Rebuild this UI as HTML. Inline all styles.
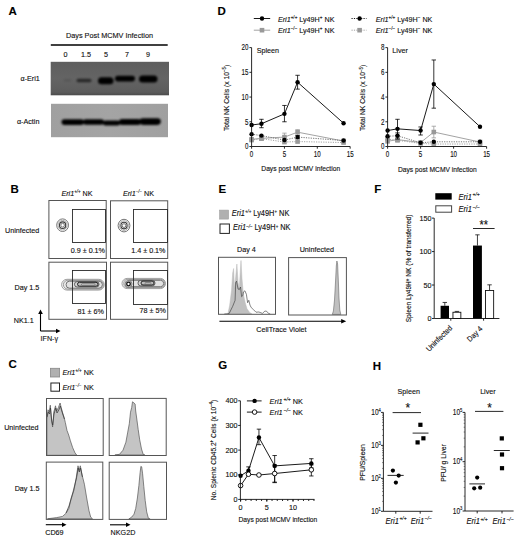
<!DOCTYPE html>
<html><head><meta charset="utf-8"><style>
html,body{margin:0;padding:0;background:#fff;width:520px;height:539px;overflow:hidden;font-family:"Liberation Sans", sans-serif;}
svg{display:block;}
text{stroke:#111;stroke-width:0.12px;}
</style></head><body>
<svg width="520" height="539" viewBox="0 0 520 539" font-family='"Liberation Sans", sans-serif'>
<defs><linearGradient id="gb1" x1="0" y1="0" x2="0" y2="1"><stop offset="0" stop-color="#5e5e5e"/><stop offset="0.5" stop-color="#646464"/><stop offset="0.9" stop-color="#5c5c5c"/><stop offset="1" stop-color="#4c4c4c"/></linearGradient><linearGradient id="gb2" x1="0" y1="0" x2="1" y2="0"><stop offset="0" stop-color="#a0a0a0"/><stop offset="0.5" stop-color="#a4a4a4"/><stop offset="1" stop-color="#a0a0a0"/></linearGradient><filter id="blur1" x="-50%" y="-50%" width="200%" height="200%"><feGaussianBlur stdDeviation="0.8"/></filter><filter id="blur05" x="-50%" y="-50%" width="200%" height="200%"><feGaussianBlur stdDeviation="0.5"/></filter><filter id="blur06" x="-50%" y="-50%" width="200%" height="200%"><feGaussianBlur stdDeviation="0.6"/></filter></defs>
<rect width="520" height="539" fill="#fff"/>
<text x="8.60" y="14.80" font-size="11.5" text-anchor="start" font-weight="bold" font-style="normal" fill="#000" >A</text>
<text transform="translate(109.50,37.60) scale(1,1.1)" x="0" y="0" font-size="7.3" text-anchor="middle" font-weight="normal" font-style="normal" fill="#111" >Days Post MCMV Infection</text>
<line x1="50.80" y1="44.90" x2="167.70" y2="44.90" stroke="#000" stroke-width="1.5" />
<text transform="translate(65.50,56.60) scale(1,1.1)" x="0" y="0" font-size="7.2" text-anchor="middle" font-weight="normal" font-style="normal" fill="#111" >0</text>
<text transform="translate(86.00,56.60) scale(1,1.1)" x="0" y="0" font-size="7.2" text-anchor="middle" font-weight="normal" font-style="normal" fill="#111" >1.5</text>
<text transform="translate(106.00,56.60) scale(1,1.1)" x="0" y="0" font-size="7.2" text-anchor="middle" font-weight="normal" font-style="normal" fill="#111" >5</text>
<text transform="translate(127.00,56.60) scale(1,1.1)" x="0" y="0" font-size="7.2" text-anchor="middle" font-weight="normal" font-style="normal" fill="#111" >7</text>
<text transform="translate(148.00,56.60) scale(1,1.1)" x="0" y="0" font-size="7.2" text-anchor="middle" font-weight="normal" font-style="normal" fill="#111" >9</text>
<rect x="50.70" y="61.80" width="118.30" height="33.50" fill="url(#gb1)" stroke="none" stroke-width="1" />
<rect x="51.00" y="103.80" width="117.00" height="33.40" fill="url(#gb2)" stroke="none" stroke-width="1" />
<text transform="translate(39.80,81.00) scale(1,1.1)" x="0" y="0" font-size="7.2" text-anchor="end" font-weight="normal" font-style="normal" fill="#111" >α-Eri1</text>
<text transform="translate(39.40,124.20) scale(1,1.1)" x="0" y="0" font-size="7.2" text-anchor="end" font-weight="normal" font-style="normal" fill="#111" >α-Actin</text>
<g filter="url(#blur1)">
<rect x="63.5" y="79.2" width="8.0" height="2.0" rx="1.0" fill="#000" opacity="0.15"/>
<rect x="76.5" y="78.7" width="15.0" height="3.6" rx="1.8" fill="#000" opacity="0.6"/>
<rect x="98" y="77.3" width="15.5" height="7.0" rx="3.5" fill="#000" opacity="1.0"/>
<rect x="115" y="75.8" width="20" height="5.6" rx="2.8" fill="#000" opacity="1.0"/>
<rect x="139" y="75.5" width="18.5" height="7.0" rx="3.5" fill="#000" opacity="1.0"/>
<rect x="61.5" y="119.3" width="22.5" height="5.6" rx="2.8" fill="#000"/>
<rect x="83" y="119.2" width="21" height="5.6" rx="2.8" fill="#000"/>
<rect x="103" y="120.6" width="17" height="5.0" rx="2.5" fill="#000"/>
<rect x="119" y="119.1" width="22" height="5.8" rx="2.9" fill="#000"/>
<rect x="139.5" y="118.3" width="21.30000000000001" height="6.6" rx="3.3" fill="#000"/>
</g>
<text x="10.60" y="192.50" font-size="11.5" text-anchor="start" font-weight="bold" font-style="normal" fill="#000" >B</text>
<text transform="translate(77.00,196.30) scale(1,1.1)" x="0" y="0" font-size="7.2" text-anchor="middle" fill="#111"><tspan font-style="italic">Eri1</tspan><tspan font-size="4.46" dx="0" dy="-2.59" font-style="italic">+/+</tspan><tspan dy="2.59"> NK</tspan></text>
<text transform="translate(138.50,196.30) scale(1,1.1)" x="0" y="0" font-size="7.2" text-anchor="middle" fill="#111"><tspan font-style="italic">Eri1</tspan><tspan font-size="4.46" dx="0" dy="-2.59" font-style="italic">−/−</tspan><tspan dy="2.59"> NK</tspan></text>
<g filter="url(#blur05)" fill="none">
<ellipse cx="62.6" cy="225.2" rx="5.9" ry="6.3" stroke="#666" stroke-width="0.9"/>
<ellipse cx="62.6" cy="225.2" rx="4.5" ry="4.8" stroke="#8a8a8a" stroke-width="0.7"/>
<ellipse cx="62.6" cy="225.2" rx="3.1" ry="3.3" stroke="#3a3a3a" stroke-width="1.1"/>
<ellipse cx="62.6" cy="225.2" rx="1.8" ry="1.9" stroke="#555" stroke-width="0.8"/>
</g>
<g filter="url(#blur05)" fill="none">
<ellipse cx="124.0" cy="225.6" rx="5.9" ry="6.3" stroke="#666" stroke-width="0.9"/>
<ellipse cx="124.0" cy="225.6" rx="4.5" ry="4.8" stroke="#8a8a8a" stroke-width="0.7"/>
<ellipse cx="124.0" cy="225.6" rx="3.1" ry="3.3" stroke="#3a3a3a" stroke-width="1.1"/>
<ellipse cx="124.0" cy="225.6" rx="1.8" ry="1.9" stroke="#555" stroke-width="0.8"/>
</g>
<g filter="url(#blur05)">
<rect x="61.60" y="279.30" width="42.60" height="10.80" rx="5.40" ry="5.40" fill="#f4f4f4" stroke="#8a8a8a" stroke-width="0.8"/>
<rect x="63.40" y="280.30" width="40.00" height="8.80" rx="4.40" ry="4.40" fill="#ececec" stroke="#777" stroke-width="0.7"/>
<rect x="66.10" y="281.20" width="36.30" height="7.00" rx="3.40" ry="3.40" fill="#e2e2e2" stroke="#555" stroke-width="0.8"/>
<rect x="74.50" y="281.60" width="24.50" height="5.40" rx="2.60" ry="2.60" fill="#d4d4d4" stroke="#444" stroke-width="0.8"/>
<rect x="77.50" y="282.30" width="20.50" height="3.90" rx="2.00" ry="2.00" fill="#bdbdbd" stroke="#222" stroke-width="1.0"/>
<rect x="81.50" y="283.70" width="13.50" height="1.40" rx="0.70" ry="0.70" fill="#e6e6e6" stroke="#555" stroke-width="0.6"/>
</g>
<g filter="url(#blur05)">
<rect x="122.00" y="278.40" width="43.50" height="10.20" rx="5.10" ry="5.10" fill="#f4f4f4" stroke="#8a8a8a" stroke-width="0.8"/>
<rect x="123.80" y="279.40" width="40.90" height="8.20" rx="4.10" ry="4.10" fill="#ececec" stroke="#777" stroke-width="0.7"/>
<rect x="126.50" y="280.30" width="37.20" height="6.40" rx="3.10" ry="3.10" fill="#e2e2e2" stroke="#555" stroke-width="0.8"/>
<rect x="138.00" y="280.40" width="17.00" height="5.40" rx="2.60" ry="2.60" fill="#d4d4d4" stroke="#444" stroke-width="0.8"/>
<rect x="141.00" y="281.10" width="13.00" height="3.90" rx="2.00" ry="2.00" fill="#bdbdbd" stroke="#222" stroke-width="1.0"/>
<rect x="145.00" y="282.50" width="6.00" height="1.40" rx="0.70" ry="0.70" fill="#e6e6e6" stroke="#555" stroke-width="0.6"/>
<circle cx="128.5" cy="284.0" r="3.5" fill="#cfcfcf" stroke="#666" stroke-width="0.7"/>
<circle cx="128.5" cy="284.0" r="1.8" fill="#fff" stroke="#111" stroke-width="1.3"/>
</g>
<rect x="48.90" y="200.50" width="57.30" height="58.00" fill="none" stroke="#555" stroke-width="1" />
<rect x="110.50" y="200.80" width="57.20" height="57.70" fill="none" stroke="#555" stroke-width="1" />
<rect x="48.90" y="262.20" width="57.60" height="57.10" fill="none" stroke="#555" stroke-width="1" />
<rect x="110.50" y="262.20" width="57.20" height="57.10" fill="none" stroke="#555" stroke-width="1" />
<rect x="72.50" y="209.50" width="33.00" height="33.00" fill="none" stroke="#2a2a2a" stroke-width="0.9" />
<rect x="133.50" y="209.50" width="34.00" height="33.00" fill="none" stroke="#2a2a2a" stroke-width="0.9" />
<rect x="72.50" y="270.50" width="33.00" height="33.00" fill="none" stroke="#2a2a2a" stroke-width="0.9" />
<rect x="133.50" y="270.50" width="34.00" height="34.00" fill="none" stroke="#2a2a2a" stroke-width="0.9" />
<text transform="translate(105.00,252.60) scale(1,1.1)" x="0" y="0" font-size="7.2" text-anchor="end" font-weight="normal" font-style="normal" fill="#111" >0.9 ± 0.1%</text>
<text transform="translate(165.50,252.60) scale(1,1.1)" x="0" y="0" font-size="7.2" text-anchor="end" font-weight="normal" font-style="normal" fill="#111" >1.4 ± 0.1%</text>
<text transform="translate(103.80,313.60) scale(1,1.1)" x="0" y="0" font-size="7.2" text-anchor="end" font-weight="normal" font-style="normal" fill="#111" >81 ± 6%</text>
<text transform="translate(165.80,313.30) scale(1,1.1)" x="0" y="0" font-size="7.2" text-anchor="end" font-weight="normal" font-style="normal" fill="#111" >78 ± 5%</text>
<text transform="translate(39.30,232.60) scale(1,1.1)" x="0" y="0" font-size="7.2" text-anchor="end" font-weight="normal" font-style="normal" fill="#111" >Uninfected</text>
<text transform="translate(39.30,289.60) scale(1,1.1)" x="0" y="0" font-size="7.2" text-anchor="end" font-weight="normal" font-style="normal" fill="#111" >Day 1.5</text>
<text transform="translate(33.70,323.30) scale(1,1.1)" x="0" y="0" font-size="7.2" text-anchor="end" font-weight="normal" font-style="normal" fill="#111" >NK1.1</text>
<line x1="40.50" y1="331.00" x2="40.50" y2="312.50" stroke="#000" stroke-width="1.1" />
<path d="M40.5,309.5 L38.2,314 L42.8,314 Z" fill="#000"/>
<line x1="40.50" y1="331.00" x2="57.50" y2="331.00" stroke="#000" stroke-width="1.1" />
<path d="M60.5,331 L56,328.7 L56,333.3 Z" fill="#000"/>
<text transform="translate(40.50,341.40) scale(1,1.1)" x="0" y="0" font-size="7.2" text-anchor="start" font-weight="normal" font-style="normal" fill="#111" >IFN-γ</text>
<text x="8.60" y="368.20" font-size="11.5" text-anchor="start" font-weight="bold" font-style="normal" fill="#000" >C</text>
<rect x="50.40" y="368.30" width="9.20" height="8.70" fill="#b0b0b0" stroke="#888" stroke-width="0.8" />
<text transform="translate(62.50,375.00) scale(1,1.1)" x="0" y="0" font-size="7.2" text-anchor="start" fill="#111"><tspan font-style="italic">Eri1</tspan><tspan font-size="4.46" dx="0" dy="-2.59" font-style="italic">+/+</tspan><tspan dy="2.59"> NK</tspan></text>
<rect x="50.90" y="383.00" width="8.60" height="8.20" fill="#fff" stroke="#222" stroke-width="1" />
<text transform="translate(62.50,389.60) scale(1,1.1)" x="0" y="0" font-size="7.2" text-anchor="start" fill="#111"><tspan font-style="italic">Eri1</tspan><tspan font-size="4.46" dx="0" dy="-2.59" font-style="italic">−/−</tspan><tspan dy="2.59"> NK</tspan></text>
<path d="M46.9,455.3 L46.9,419.0 L48.0,409.8 L49.2,412.0 L50.3,405.2 L51.5,419.0 L52.6,427.0 L53.8,412.0 L55.5,405.8 L56.6,411.0 L58.4,407.5 L60.1,403.0 L61.2,407.5 L62.4,412.0 L64.1,417.3 L65.3,422.4 L67.0,430.5 L68.7,435.0 L70.4,440.8 L72.7,447.7 L75.0,452.9 L76.8,455.2 Z" fill="#c4c4c4" stroke="#555" stroke-width="0.7" stroke-linejoin="round"/>
<path d="M47.0,417.0 L48.3,412.0 L49.5,414.0 L50.5,408.0 L51.7,421.0 L52.7,425.0 L54.0,414.0 L55.8,408.0 L57.0,413.0 L58.8,410.0 L60.3,406.0 L61.5,410.0 L62.7,414.0 L64.4,419.0" fill="none" stroke="#333" stroke-width="0.7" stroke-linejoin="round"/>
<path d="M47.5,518.8 L56.7,517.6 L62.5,516.4 L65.9,513.4 L68.8,508.5 L71.1,499.2 L74.0,490.0 L76.3,477.3 L78.0,465.8 L79.2,470.4 L80.3,465.8 L82.1,475.0 L84.4,484.2 L86.7,498.0 L89.0,510.8 L90.7,517.1 L92.5,518.8 Z" fill="#c4c4c4" stroke="#555" stroke-width="0.7" stroke-linejoin="round"/>
<path d="M66.0,513.0 L69.0,506.0 L71.5,497.0 L73.0,492.0 L75.0,484.0 L76.5,478.0 L78.2,468.0 L79.3,472.0 L80.6,468.0 L82.4,477.0" fill="none" stroke="#333" stroke-width="0.7" stroke-linejoin="round"/>
<path d="M114.9,455.0 L119.5,454.3 L123.0,450.2 L125.9,442.2 L127.6,432.9 L129.3,423.7 L130.5,412.2 L131.7,407.5 L132.5,401.8 L134.0,403.0 L135.1,404.0 L135.7,411.0 L136.8,419.0 L138.2,429.5 L139.7,439.8 L141.5,449.0 L143.2,454.3 L144.9,455.0 Z" fill="#c4c4c4" stroke="#555" stroke-width="0.7" stroke-linejoin="round"/>
<path d="M128.8,519.0 L131.7,517.1 L134.0,514.2 L135.7,508.5 L137.4,498.0 L138.9,485.4 L140.1,472.7 L140.9,466.3 L141.7,466.9 L142.6,473.8 L143.8,486.5 L145.2,500.4 L146.7,511.9 L148.4,518.3 L150.1,519.0 Z" fill="#c4c4c4" stroke="#555" stroke-width="0.7" stroke-linejoin="round"/>
<rect x="46.50" y="398.50" width="56.70" height="57.00" fill="none" stroke="#555" stroke-width="1" />
<rect x="109.20" y="398.40" width="57.00" height="57.10" fill="none" stroke="#555" stroke-width="1" />
<rect x="46.30" y="462.10" width="56.50" height="57.30" fill="none" stroke="#555" stroke-width="1" />
<rect x="109.20" y="462.20" width="57.30" height="57.20" fill="none" stroke="#555" stroke-width="1" />
<text transform="translate(38.50,429.60) scale(1,1.1)" x="0" y="0" font-size="7.2" text-anchor="end" font-weight="normal" font-style="normal" fill="#111" >Uninfected</text>
<text transform="translate(39.40,491.20) scale(1,1.1)" x="0" y="0" font-size="7.2" text-anchor="end" font-weight="normal" font-style="normal" fill="#111" >Day 1.5</text>
<line x1="45.80" y1="524.70" x2="63.50" y2="524.70" stroke="#000" stroke-width="1.1" />
<path d="M66.5,524.7 L62,522.5 L62,526.9 Z" fill="#000"/>
<line x1="110.00" y1="524.80" x2="127.50" y2="524.80" stroke="#000" stroke-width="1.1" />
<path d="M130.5,524.8 L126,522.6 L126,527 Z" fill="#000"/>
<text transform="translate(45.20,534.90) scale(1,1.1)" x="0" y="0" font-size="7.2" text-anchor="start" font-weight="normal" font-style="normal" fill="#111" >CD69</text>
<text transform="translate(110.60,534.80) scale(1,1.1)" x="0" y="0" font-size="7.2" text-anchor="start" font-weight="normal" font-style="normal" fill="#111" >NKG2D</text>
<text x="217.60" y="14.60" font-size="11.5" text-anchor="start" font-weight="bold" font-style="normal" fill="#000" >D</text>
<line x1="253.80" y1="18.50" x2="270.20" y2="18.50" stroke="#000" stroke-width="0.9" />
<circle cx="262.00" cy="18.50" r="2.2" fill="#000"/>
<text transform="translate(277.9,21.70) scale(1,1.1)" x="0" y="0" font-size="7.2" fill="#111"><tspan font-style="italic">Eri1</tspan><tspan font-size="4.6" dy="-2.7">+/+</tspan><tspan dy="2.7"> Ly49H</tspan><tspan font-size="4.6" dy="-2.7">+</tspan><tspan dy="2.7"> NK</tspan></text>
<line x1="253.80" y1="30.20" x2="270.20" y2="30.20" stroke="#999" stroke-width="0.9" />
<rect x="259.70" y="27.90" width="4.6" height="4.6" fill="#999"/>
<text transform="translate(277.9,33.40) scale(1,1.1)" x="0" y="0" font-size="7.2" fill="#111"><tspan font-style="italic">Eri1</tspan><tspan font-size="4.6" dy="-2.7">−/−</tspan><tspan dy="2.7"> Ly49H</tspan><tspan font-size="4.6" dy="-2.7">+</tspan><tspan dy="2.7"> NK</tspan></text>
<line x1="351.50" y1="18.50" x2="366.50" y2="18.50" stroke="#000" stroke-width="0.9" stroke-dasharray="1.2,1.2"/>
<circle cx="359.60" cy="18.50" r="2.2" fill="#000"/>
<text transform="translate(375.8,21.70) scale(1,1.1)" x="0" y="0" font-size="7.2" fill="#111"><tspan font-style="italic">Eri1</tspan><tspan font-size="4.6" dy="-2.7">+/+</tspan><tspan dy="2.7"> Ly49H</tspan><tspan font-size="4.6" dy="-2.7">−</tspan><tspan dy="2.7"> NK</tspan></text>
<line x1="351.50" y1="30.20" x2="366.50" y2="30.20" stroke="#999" stroke-width="0.9" stroke-dasharray="1.2,1.2"/>
<rect x="357.30" y="27.90" width="4.6" height="4.6" fill="#999"/>
<text transform="translate(375.8,33.40) scale(1,1.1)" x="0" y="0" font-size="7.2" fill="#111"><tspan font-style="italic">Eri1</tspan><tspan font-size="4.6" dy="-2.7">−/−</tspan><tspan dy="2.7"> Ly49H</tspan><tspan font-size="4.6" dy="-2.7">−</tspan><tspan dy="2.7"> NK</tspan></text>
<path d="M251.60,140.07 L261.45,138.59 L284.45,142.05 L297.59,141.56 L343.58,142.54" fill="none" stroke="#999" stroke-width="0.9" stroke-dasharray="1.2,1.2"/>
<rect x="249.30" y="137.77" width="4.6" height="4.6" fill="#999"/>
<rect x="259.15" y="136.29" width="4.6" height="4.6" fill="#999"/>
<rect x="282.15" y="139.75" width="4.6" height="4.6" fill="#999"/>
<rect x="295.29" y="139.25" width="4.6" height="4.6" fill="#999"/>
<rect x="341.28" y="140.24" width="4.6" height="4.6" fill="#999"/>
<path d="M251.60,139.33 L261.45,138.34 L284.45,137.10 L297.59,132.16 L343.58,141.06" fill="none" stroke="#999" stroke-width="0.9" />
<line x1="284.45" y1="133.15" x2="284.45" y2="140.57" stroke="#999" stroke-width="0.8" />
<line x1="282.25" y1="133.15" x2="286.65" y2="133.15" stroke="#999" stroke-width="0.8" />
<line x1="282.25" y1="140.57" x2="286.65" y2="140.57" stroke="#999" stroke-width="0.8" />
<line x1="297.59" y1="129.69" x2="297.59" y2="135.13" stroke="#999" stroke-width="0.8" />
<line x1="295.39" y1="129.69" x2="299.79" y2="129.69" stroke="#999" stroke-width="0.8" />
<line x1="295.39" y1="135.13" x2="299.79" y2="135.13" stroke="#999" stroke-width="0.8" />
<line x1="261.45" y1="136.61" x2="261.45" y2="140.07" stroke="#999" stroke-width="0.8" />
<line x1="259.25" y1="136.61" x2="263.65" y2="136.61" stroke="#999" stroke-width="0.8" />
<line x1="259.25" y1="140.07" x2="263.65" y2="140.07" stroke="#999" stroke-width="0.8" />
<rect x="249.30" y="137.03" width="4.6" height="4.6" fill="#999"/>
<rect x="259.15" y="136.04" width="4.6" height="4.6" fill="#999"/>
<rect x="282.15" y="134.80" width="4.6" height="4.6" fill="#999"/>
<rect x="295.29" y="129.86" width="4.6" height="4.6" fill="#999"/>
<rect x="341.28" y="138.76" width="4.6" height="4.6" fill="#999"/>
<path d="M251.60,134.14 L261.45,135.62 L284.45,140.07 L297.59,137.10 L343.58,140.57" fill="none" stroke="#666" stroke-width="0.9" stroke-dasharray="1.2,1.2"/>
<line x1="297.59" y1="135.62" x2="297.59" y2="138.59" stroke="#000" stroke-width="0.8" />
<line x1="295.39" y1="135.62" x2="299.79" y2="135.62" stroke="#000" stroke-width="0.8" />
<line x1="295.39" y1="138.59" x2="299.79" y2="138.59" stroke="#000" stroke-width="0.8" />
<circle cx="251.60" cy="134.14" r="2.2" fill="#000"/>
<circle cx="261.45" cy="135.62" r="2.2" fill="#000"/>
<circle cx="284.45" cy="140.07" r="2.2" fill="#000"/>
<circle cx="297.59" cy="137.10" r="2.2" fill="#000"/>
<circle cx="343.58" cy="140.57" r="2.2" fill="#000"/>
<path d="M251.60,124.99 L261.45,123.75 L284.45,113.86 L297.59,82.22 L343.58,123.26" fill="none" stroke="#000" stroke-width="0.9" />
<line x1="261.45" y1="119.30" x2="261.45" y2="127.71" stroke="#000" stroke-width="0.8" />
<line x1="259.25" y1="119.30" x2="263.65" y2="119.30" stroke="#000" stroke-width="0.8" />
<line x1="259.25" y1="127.71" x2="263.65" y2="127.71" stroke="#000" stroke-width="0.8" />
<line x1="284.45" y1="105.46" x2="284.45" y2="121.78" stroke="#000" stroke-width="0.8" />
<line x1="282.25" y1="105.46" x2="286.65" y2="105.46" stroke="#000" stroke-width="0.8" />
<line x1="282.25" y1="121.78" x2="286.65" y2="121.78" stroke="#000" stroke-width="0.8" />
<line x1="297.59" y1="75.29" x2="297.59" y2="89.14" stroke="#000" stroke-width="0.8" />
<line x1="295.39" y1="75.29" x2="299.79" y2="75.29" stroke="#000" stroke-width="0.8" />
<line x1="295.39" y1="89.14" x2="299.79" y2="89.14" stroke="#000" stroke-width="0.8" />
<circle cx="251.60" cy="124.99" r="2.2" fill="#000"/>
<circle cx="261.45" cy="123.75" r="2.2" fill="#000"/>
<circle cx="284.45" cy="113.86" r="2.2" fill="#000"/>
<circle cx="297.59" cy="82.22" r="2.2" fill="#000"/>
<circle cx="343.58" cy="123.26" r="2.2" fill="#000"/>
<line x1="251.60" y1="47.60" x2="251.60" y2="146.50" stroke="#111" stroke-width="0.9" />
<line x1="249.40" y1="146.50" x2="251.60" y2="146.50" stroke="#111" stroke-width="0.9" />
<text transform="translate(248.40,149.30) scale(0.84,1) scale(1,1.1)" x="0" y="0" font-size="7.4" text-anchor="end" fill="#111">0</text>
<line x1="249.40" y1="121.78" x2="251.60" y2="121.78" stroke="#111" stroke-width="0.9" />
<text transform="translate(248.40,124.58) scale(0.84,1) scale(1,1.1)" x="0" y="0" font-size="7.4" text-anchor="end" fill="#111">5</text>
<line x1="249.40" y1="97.05" x2="251.60" y2="97.05" stroke="#111" stroke-width="0.9" />
<text transform="translate(248.40,99.85) scale(0.84,1) scale(1,1.1)" x="0" y="0" font-size="7.4" text-anchor="end" fill="#111">10</text>
<line x1="249.40" y1="72.32" x2="251.60" y2="72.32" stroke="#111" stroke-width="0.9" />
<text transform="translate(248.40,75.12) scale(0.84,1) scale(1,1.1)" x="0" y="0" font-size="7.4" text-anchor="end" fill="#111">15</text>
<line x1="249.40" y1="47.60" x2="251.60" y2="47.60" stroke="#111" stroke-width="0.9" />
<text transform="translate(248.40,50.40) scale(0.84,1) scale(1,1.1)" x="0" y="0" font-size="7.4" text-anchor="end" fill="#111">20</text>
<line x1="251.60" y1="146.50" x2="350.15" y2="146.50" stroke="#111" stroke-width="0.9" />
<line x1="251.60" y1="146.50" x2="251.60" y2="148.70" stroke="#111" stroke-width="0.9" />
<text transform="translate(251.60,157.30) scale(0.84,1) scale(1,1.1)" x="0" y="0" font-size="7.4" text-anchor="middle" fill="#111">0</text>
<line x1="284.45" y1="146.50" x2="284.45" y2="148.70" stroke="#111" stroke-width="0.9" />
<text transform="translate(284.45,157.30) scale(0.84,1) scale(1,1.1)" x="0" y="0" font-size="7.4" text-anchor="middle" fill="#111">5</text>
<line x1="317.30" y1="146.50" x2="317.30" y2="148.70" stroke="#111" stroke-width="0.9" />
<text transform="translate(317.30,157.30) scale(0.84,1) scale(1,1.1)" x="0" y="0" font-size="7.4" text-anchor="middle" fill="#111">10</text>
<line x1="350.15" y1="146.50" x2="350.15" y2="148.70" stroke="#111" stroke-width="0.9" />
<text transform="translate(350.15,157.30) scale(0.84,1) scale(1,1.1)" x="0" y="0" font-size="7.4" text-anchor="middle" fill="#111">15</text>
<text transform="translate(256.70,52.90) scale(1,1.1)" x="0" y="0" font-size="7.2" text-anchor="start" font-weight="normal" font-style="normal" fill="#111" >Spleen</text>
<text transform="translate(228.80,97.90) rotate(-90) scale(1,1.1)" x="0" y="0" font-size="6.75" text-anchor="middle" fill="#111">Total NK Cells (x 10<tspan font-size="4.4" dy="-2.5">−5</tspan><tspan dy="2.5">)</tspan></text>
<text transform="translate(300.70,170.80) scale(1,1.1)" x="0" y="0" font-size="6.7" text-anchor="middle" font-weight="normal" font-style="normal" fill="#111" >Days post MCMV infection</text>
<path d="M387.60,139.08 L397.50,140.32 L420.60,143.41 L433.80,144.03 L480.00,144.03" fill="none" stroke="#999" stroke-width="0.9" stroke-dasharray="1.2,1.2"/>
<rect x="385.30" y="136.78" width="4.6" height="4.6" fill="#999"/>
<rect x="395.20" y="138.02" width="4.6" height="4.6" fill="#999"/>
<rect x="418.30" y="141.11" width="4.6" height="4.6" fill="#999"/>
<rect x="431.50" y="141.73" width="4.6" height="4.6" fill="#999"/>
<rect x="477.70" y="141.73" width="4.6" height="4.6" fill="#999"/>
<path d="M387.60,141.31 L397.50,139.58 L420.60,142.54 L433.80,132.04 L480.00,142.05" fill="none" stroke="#999" stroke-width="0.9" />
<line x1="433.80" y1="126.23" x2="433.80" y2="137.85" stroke="#999" stroke-width="0.8" />
<line x1="431.60" y1="126.23" x2="436.00" y2="126.23" stroke="#999" stroke-width="0.8" />
<line x1="431.60" y1="137.85" x2="436.00" y2="137.85" stroke="#999" stroke-width="0.8" />
<line x1="397.50" y1="136.61" x2="397.50" y2="141.56" stroke="#999" stroke-width="0.8" />
<line x1="395.30" y1="136.61" x2="399.70" y2="136.61" stroke="#999" stroke-width="0.8" />
<line x1="395.30" y1="141.56" x2="399.70" y2="141.56" stroke="#999" stroke-width="0.8" />
<rect x="385.30" y="139.01" width="4.6" height="4.6" fill="#999"/>
<rect x="395.20" y="137.28" width="4.6" height="4.6" fill="#999"/>
<rect x="418.30" y="140.24" width="4.6" height="4.6" fill="#999"/>
<rect x="431.50" y="129.74" width="4.6" height="4.6" fill="#999"/>
<rect x="477.70" y="139.75" width="4.6" height="4.6" fill="#999"/>
<path d="M387.60,136.24 L397.50,135.75 L420.60,142.79 L433.80,141.80 L480.00,141.80" fill="none" stroke="#666" stroke-width="0.9" stroke-dasharray="1.2,1.2"/>
<line x1="397.50" y1="132.90" x2="397.50" y2="139.08" stroke="#000" stroke-width="0.8" />
<line x1="395.30" y1="132.90" x2="399.70" y2="132.90" stroke="#000" stroke-width="0.8" />
<line x1="395.30" y1="139.08" x2="399.70" y2="139.08" stroke="#000" stroke-width="0.8" />
<circle cx="387.60" cy="136.24" r="2.2" fill="#000"/>
<circle cx="397.50" cy="135.75" r="2.2" fill="#000"/>
<circle cx="420.60" cy="142.79" r="2.2" fill="#000"/>
<circle cx="433.80" cy="141.80" r="2.2" fill="#000"/>
<circle cx="480.00" cy="141.80" r="2.2" fill="#000"/>
<path d="M387.60,130.56 L397.50,128.83 L420.60,130.56 L433.80,84.08 L480.00,126.72" fill="none" stroke="#000" stroke-width="0.9" />
<line x1="397.50" y1="119.31" x2="397.50" y2="135.38" stroke="#000" stroke-width="0.8" />
<line x1="395.30" y1="119.31" x2="399.70" y2="119.31" stroke="#000" stroke-width="0.8" />
<line x1="395.30" y1="135.38" x2="399.70" y2="135.38" stroke="#000" stroke-width="0.8" />
<line x1="420.60" y1="126.97" x2="420.60" y2="135.01" stroke="#000" stroke-width="0.8" />
<line x1="418.40" y1="126.97" x2="422.80" y2="126.97" stroke="#000" stroke-width="0.8" />
<line x1="418.40" y1="135.01" x2="422.80" y2="135.01" stroke="#000" stroke-width="0.8" />
<line x1="433.80" y1="59.98" x2="433.80" y2="108.18" stroke="#000" stroke-width="0.8" />
<line x1="431.60" y1="59.98" x2="436.00" y2="59.98" stroke="#000" stroke-width="0.8" />
<line x1="431.60" y1="108.18" x2="436.00" y2="108.18" stroke="#000" stroke-width="0.8" />
<circle cx="387.60" cy="130.56" r="2.2" fill="#000"/>
<circle cx="397.50" cy="128.83" r="2.2" fill="#000"/>
<circle cx="420.60" cy="130.56" r="2.2" fill="#000"/>
<circle cx="433.80" cy="84.08" r="2.2" fill="#000"/>
<circle cx="480.00" cy="126.72" r="2.2" fill="#000"/>
<line x1="387.60" y1="47.62" x2="387.60" y2="146.50" stroke="#111" stroke-width="0.9" />
<line x1="385.40" y1="146.50" x2="387.60" y2="146.50" stroke="#111" stroke-width="0.9" />
<text transform="translate(384.40,149.30) scale(0.84,1) scale(1,1.1)" x="0" y="0" font-size="7.4" text-anchor="end" fill="#111">0</text>
<line x1="385.40" y1="121.78" x2="387.60" y2="121.78" stroke="#111" stroke-width="0.9" />
<text transform="translate(384.40,124.58) scale(0.84,1) scale(1,1.1)" x="0" y="0" font-size="7.4" text-anchor="end" fill="#111">2</text>
<line x1="385.40" y1="97.06" x2="387.60" y2="97.06" stroke="#111" stroke-width="0.9" />
<text transform="translate(384.40,99.86) scale(0.84,1) scale(1,1.1)" x="0" y="0" font-size="7.4" text-anchor="end" fill="#111">4</text>
<line x1="385.40" y1="72.34" x2="387.60" y2="72.34" stroke="#111" stroke-width="0.9" />
<text transform="translate(384.40,75.14) scale(0.84,1) scale(1,1.1)" x="0" y="0" font-size="7.4" text-anchor="end" fill="#111">6</text>
<line x1="385.40" y1="47.62" x2="387.60" y2="47.62" stroke="#111" stroke-width="0.9" />
<text transform="translate(384.40,50.42) scale(0.84,1) scale(1,1.1)" x="0" y="0" font-size="7.4" text-anchor="end" fill="#111">8</text>
<line x1="387.60" y1="146.50" x2="486.60" y2="146.50" stroke="#111" stroke-width="0.9" />
<line x1="387.60" y1="146.50" x2="387.60" y2="148.70" stroke="#111" stroke-width="0.9" />
<text transform="translate(387.60,157.30) scale(0.84,1) scale(1,1.1)" x="0" y="0" font-size="7.4" text-anchor="middle" fill="#111">0</text>
<line x1="420.60" y1="146.50" x2="420.60" y2="148.70" stroke="#111" stroke-width="0.9" />
<text transform="translate(420.60,157.30) scale(0.84,1) scale(1,1.1)" x="0" y="0" font-size="7.4" text-anchor="middle" fill="#111">5</text>
<line x1="453.60" y1="146.50" x2="453.60" y2="148.70" stroke="#111" stroke-width="0.9" />
<text transform="translate(453.60,157.30) scale(0.84,1) scale(1,1.1)" x="0" y="0" font-size="7.4" text-anchor="middle" fill="#111">10</text>
<line x1="486.60" y1="146.50" x2="486.60" y2="148.70" stroke="#111" stroke-width="0.9" />
<text transform="translate(486.60,157.30) scale(0.84,1) scale(1,1.1)" x="0" y="0" font-size="7.4" text-anchor="middle" fill="#111">15</text>
<text transform="translate(392.30,52.90) scale(1,1.1)" x="0" y="0" font-size="7.2" text-anchor="start" font-weight="normal" font-style="normal" fill="#111" >Liver</text>
<text transform="translate(365.40,97.90) rotate(-90) scale(1,1.1)" x="0" y="0" font-size="6.75" text-anchor="middle" fill="#111">Total NK Cells (x 10<tspan font-size="4.4" dy="-2.5">−5</tspan><tspan dy="2.5">)</tspan></text>
<text transform="translate(437.30,171.60) scale(1,1.1)" x="0" y="0" font-size="6.7" text-anchor="middle" font-weight="normal" font-style="normal" fill="#111" >Days post MCMV infection</text>
<text x="218.60" y="193.20" font-size="11.5" text-anchor="start" font-weight="bold" font-style="normal" fill="#000" >E</text>
<rect x="219.60" y="210.10" width="9.00" height="9.00" fill="#b0b0b0" stroke="#a0a0a0" stroke-width="0.6" />
<text transform="translate(231.8,215.8) scale(1,1.1)" x="0" y="0" font-size="7.4" fill="#111"><tspan font-style="italic">Eri1</tspan><tspan font-size="4.4" dy="-2.6" font-style="italic">+/+</tspan><tspan dy="2.6"> Ly49H</tspan><tspan font-size="4.4" dy="-2.6">+</tspan><tspan dy="2.6"> NK</tspan></text>
<rect x="220.00" y="224.00" width="9.40" height="9.40" fill="#fff" stroke="#222" stroke-width="1" />
<text transform="translate(233.0,230.4) scale(1,1.1)" x="0" y="0" font-size="7.4" fill="#111"><tspan font-style="italic">Eri1</tspan><tspan font-size="4.4" dy="-2.6" font-style="italic">−/−</tspan><tspan dy="2.6"> Ly49H</tspan><tspan font-size="4.4" dy="-2.6">+</tspan><tspan dy="2.6"> NK</tspan></text>
<text transform="translate(246.40,252.10) scale(1,1.1)" x="0" y="0" font-size="7.2" text-anchor="middle" font-weight="normal" font-style="normal" fill="#111" >Day 4</text>
<text transform="translate(316.80,251.90) scale(1,1.1)" x="0" y="0" font-size="7.2" text-anchor="middle" font-weight="normal" font-style="normal" fill="#111" >Uninfected</text>
<path d="M227.9,313.9 L229.7,305.1 L231.5,290.8 L232.7,272.9 L233.6,268.5 L234.5,288.8 L235.7,276.8 L236.9,264.0 L238.1,282.4 L239.3,288.8 L240.2,272.9 L241.0,260.5 L242.0,278.8 L243.4,294.3 L245.2,302.7 L247.0,308.7 L249.4,312.2 L251.8,313.9 Z" fill="#c0c0c0" stroke="#bbb" stroke-width="0.5" stroke-linejoin="round"/>
<path d="M224.3,314.0 L229.1,313.6 L232.7,306.3 L235.1,300.3 L235.7,282.4 L236.5,281.2 L238.1,289.0 L239.3,289.6 L240.5,287.0 L241.6,296.7 L242.8,295.5 L243.4,292.0 L244.9,290.8 L246.4,294.3 L247.6,302.7 L248.8,300.3 L250.0,305.1 L251.2,307.5 L253.6,309.8 L256.0,312.2 L258.9,312.0 L262.5,313.4 L264.9,311.0 L266.7,311.3 L268.5,313.4 L270.2,314.0" fill="none" stroke="#333" stroke-width="0.6" stroke-linejoin="round"/>
<path d="M332.3,314.4 L333.4,311.0 L334.5,300.0 L335.5,282.0 L336.3,266.0 L336.9,261.0 L337.6,264.0 L338.3,280.0 L339.0,298.0 L339.8,310.0 L340.8,314.4 Z" fill="#c0c0c0" stroke="#666" stroke-width="0.6" stroke-linejoin="round"/>
<rect x="218.50" y="257.30" width="57.00" height="57.00" fill="none" stroke="#555" stroke-width="1" />
<rect x="288.60" y="257.60" width="57.80" height="57.40" fill="none" stroke="#555" stroke-width="1" />
<line x1="219.40" y1="321.20" x2="342.50" y2="321.20" stroke="#000" stroke-width="1.1" />
<path d="M346.2,321.2 L341.2,318.9 L341.2,323.5 Z" fill="#000"/>
<text transform="translate(281.40,332.40) scale(1,1.1)" x="0" y="0" font-size="7.2" text-anchor="middle" font-weight="normal" font-style="normal" fill="#111" >CellTrace Violet</text>
<text x="374.30" y="192.60" font-size="11.5" text-anchor="start" font-weight="bold" font-style="normal" fill="#000" >F</text>
<rect x="435.30" y="193.20" width="16.40" height="6.40" fill="#000" stroke="none" stroke-width="1" />
<text transform="translate(458.6,199.6) scale(1,1.1)" x="0" y="0" font-size="7.5" fill="#111" font-style="italic">Eri1<tspan font-size="5.0" dy="-3.2" dx="0.6">+/+</tspan></text>
<rect x="435.80" y="205.80" width="15.80" height="6.40" fill="#fff" stroke="#444" stroke-width="1.0" />
<text transform="translate(458.6,212.2) scale(1,1.1)" x="0" y="0" font-size="7.5" fill="#111" font-style="italic">Eri1<tspan font-size="5.0" dy="-3.2" dx="0.6">−/−</tspan></text>
<line x1="444.80" y1="305.78" x2="444.80" y2="302.44" stroke="#111" stroke-width="0.8" />
<line x1="442.60" y1="302.44" x2="447.00" y2="302.44" stroke="#111" stroke-width="0.8" />
<rect x="440.60" y="305.78" width="8.40" height="12.72" fill="#000" stroke="none" stroke-width="1" />
<line x1="456.90" y1="311.81" x2="456.90" y2="311.41" stroke="#111" stroke-width="0.8" />
<line x1="454.70" y1="311.41" x2="459.10" y2="311.41" stroke="#111" stroke-width="0.8" />
<rect x="452.95" y="312.26" width="7.90" height="6.24" fill="#fff" stroke="#111" stroke-width="0.9" />
<line x1="477.45" y1="245.55" x2="477.45" y2="234.84" stroke="#111" stroke-width="0.8" />
<line x1="475.25" y1="234.84" x2="479.65" y2="234.84" stroke="#111" stroke-width="0.8" />
<rect x="473.00" y="245.55" width="8.90" height="72.95" fill="#000" stroke="none" stroke-width="1" />
<line x1="489.55" y1="290.05" x2="489.55" y2="284.83" stroke="#111" stroke-width="0.8" />
<line x1="487.35" y1="284.83" x2="491.75" y2="284.83" stroke="#111" stroke-width="0.8" />
<rect x="485.45" y="290.50" width="8.20" height="28.00" fill="#fff" stroke="#111" stroke-width="0.9" />
<line x1="434.20" y1="218.10" x2="434.20" y2="318.50" stroke="#111" stroke-width="0.9" />
<line x1="432.00" y1="318.50" x2="434.20" y2="318.50" stroke="#111" stroke-width="0.9" />
<text transform="translate(431.40,321.10) scale(1.0,1) scale(1,1.1)" x="0" y="0" font-size="7.2" text-anchor="end" fill="#111">0</text>
<line x1="432.00" y1="285.03" x2="434.20" y2="285.03" stroke="#111" stroke-width="0.9" />
<text transform="translate(431.40,287.63) scale(1.0,1) scale(1,1.1)" x="0" y="0" font-size="7.2" text-anchor="end" fill="#111">50</text>
<line x1="432.00" y1="251.57" x2="434.20" y2="251.57" stroke="#111" stroke-width="0.9" />
<text transform="translate(431.40,254.17) scale(1.0,1) scale(1,1.1)" x="0" y="0" font-size="7.2" text-anchor="end" fill="#111">100</text>
<line x1="432.00" y1="218.11" x2="434.20" y2="218.11" stroke="#111" stroke-width="0.9" />
<text transform="translate(431.40,220.71) scale(1.0,1) scale(1,1.1)" x="0" y="0" font-size="7.2" text-anchor="end" fill="#111">150</text>
<line x1="434.20" y1="318.50" x2="499.40" y2="318.50" stroke="#111" stroke-width="0.9" />
<line x1="450.80" y1="318.50" x2="450.80" y2="320.70" stroke="#111" stroke-width="0.9" />
<line x1="483.60" y1="318.50" x2="483.60" y2="320.70" stroke="#111" stroke-width="0.9" />
<text transform="translate(483.80,229.20) scale(1,1.1)" x="0" y="0" font-size="11" text-anchor="middle" font-weight="normal" font-style="normal" fill="#111" >**</text>
<line x1="473.00" y1="228.50" x2="494.60" y2="228.50" stroke="#111" stroke-width="0.9" />
<text transform="translate(411.40,268.40) rotate(-90) scale(1,1.1)" x="0" y="0" font-size="6.6" text-anchor="middle" fill="#111">Spleen Ly49H<tspan font-size="4.4" dy="-2.5">+</tspan><tspan dy="2.5"> NK (% of transferred)</tspan></text>
<text transform="translate(452.8,328.4) rotate(-45) scale(1,1.1)" font-size="7.0" text-anchor="end" fill="#111">Uninfected</text>
<text transform="translate(483.0,329.3) rotate(-45) scale(1,1.1)" font-size="7.0" text-anchor="end" fill="#111">Day 4</text>
<text x="218.20" y="368.60" font-size="11.5" text-anchor="start" font-weight="bold" font-style="normal" fill="#000" >G</text>
<line x1="246.90" y1="400.90" x2="261.60" y2="400.90" stroke="#000" stroke-width="0.9" />
<circle cx="254.60" cy="400.90" r="2.2" fill="#000"/>
<text transform="translate(269.60,403.70) scale(1,1.1)" x="0" y="0" font-size="7.3" text-anchor="start" fill="#111"><tspan font-style="italic">Eri1</tspan><tspan font-size="5.00" dx="1.0" dy="-2.63" font-style="italic">+/+</tspan><tspan dy="2.63"> NK</tspan></text>
<line x1="246.90" y1="412.10" x2="261.60" y2="412.10" stroke="#000" stroke-width="0.9" />
<circle cx="254.60" cy="412.10" r="2.3" fill="#fff" stroke="#000" stroke-width="0.9"/>
<text transform="translate(269.60,414.90) scale(1,1.1)" x="0" y="0" font-size="7.3" text-anchor="start" fill="#111"><tspan font-style="italic">Eri1</tspan><tspan font-size="5.00" dx="1.0" dy="-2.63" font-style="italic">−/−</tspan><tspan dy="2.63"> NK</tspan></text>
<path d="M240.60,475.74 L248.46,470.81 L258.94,437.53 L274.66,465.88 L311.34,463.41" fill="none" stroke="#000" stroke-width="0.9" />
<line x1="248.46" y1="466.86" x2="248.46" y2="474.75" stroke="#000" stroke-width="0.8" />
<line x1="246.26" y1="466.86" x2="250.66" y2="466.86" stroke="#000" stroke-width="0.8" />
<line x1="246.26" y1="474.75" x2="250.66" y2="474.75" stroke="#000" stroke-width="0.8" />
<line x1="258.94" y1="429.15" x2="258.94" y2="444.68" stroke="#000" stroke-width="0.8" />
<line x1="256.74" y1="429.15" x2="261.14" y2="429.15" stroke="#000" stroke-width="0.8" />
<line x1="256.74" y1="444.68" x2="261.14" y2="444.68" stroke="#000" stroke-width="0.8" />
<line x1="274.66" y1="455.52" x2="274.66" y2="482.14" stroke="#000" stroke-width="0.8" />
<line x1="272.46" y1="455.52" x2="276.86" y2="455.52" stroke="#000" stroke-width="0.8" />
<line x1="272.46" y1="482.14" x2="276.86" y2="482.14" stroke="#000" stroke-width="0.8" />
<line x1="311.34" y1="458.73" x2="311.34" y2="467.85" stroke="#000" stroke-width="0.8" />
<line x1="309.14" y1="458.73" x2="313.54" y2="458.73" stroke="#000" stroke-width="0.8" />
<line x1="309.14" y1="467.85" x2="313.54" y2="467.85" stroke="#000" stroke-width="0.8" />
<circle cx="240.60" cy="475.74" r="2.2" fill="#000"/>
<circle cx="248.46" cy="470.81" r="2.2" fill="#000"/>
<circle cx="258.94" cy="437.53" r="2.2" fill="#000"/>
<circle cx="274.66" cy="465.88" r="2.2" fill="#000"/>
<circle cx="311.34" cy="463.41" r="2.2" fill="#000"/>
<path d="M240.60,485.60 L248.46,474.26 L258.94,475.00 L274.66,473.52 L311.34,469.82" fill="none" stroke="#000" stroke-width="0.9" />
<line x1="274.66" y1="464.89" x2="274.66" y2="482.64" stroke="#000" stroke-width="0.8" />
<line x1="272.46" y1="464.89" x2="276.86" y2="464.89" stroke="#000" stroke-width="0.8" />
<line x1="272.46" y1="482.64" x2="276.86" y2="482.64" stroke="#000" stroke-width="0.8" />
<line x1="311.34" y1="464.89" x2="311.34" y2="475.98" stroke="#000" stroke-width="0.8" />
<line x1="309.14" y1="464.89" x2="313.54" y2="464.89" stroke="#000" stroke-width="0.8" />
<line x1="309.14" y1="475.98" x2="313.54" y2="475.98" stroke="#000" stroke-width="0.8" />
<circle cx="240.60" cy="485.60" r="2.3" fill="#fff" stroke="#000" stroke-width="0.9"/>
<circle cx="248.46" cy="474.26" r="2.3" fill="#fff" stroke="#000" stroke-width="0.9"/>
<circle cx="258.94" cy="475.00" r="2.3" fill="#fff" stroke="#000" stroke-width="0.9"/>
<circle cx="274.66" cy="473.52" r="2.3" fill="#fff" stroke="#000" stroke-width="0.9"/>
<circle cx="311.34" cy="469.82" r="2.3" fill="#fff" stroke="#000" stroke-width="0.9"/>
<line x1="240.40" y1="400.80" x2="240.40" y2="499.40" stroke="#111" stroke-width="0.9" />
<line x1="238.20" y1="499.40" x2="240.40" y2="499.40" stroke="#111" stroke-width="0.9" />
<text transform="translate(237.60,502.00) scale(1.0,1) scale(1,1.1)" x="0" y="0" font-size="7.2" text-anchor="end" fill="#111">0</text>
<line x1="238.20" y1="474.75" x2="240.40" y2="474.75" stroke="#111" stroke-width="0.9" />
<text transform="translate(237.60,477.35) scale(1.0,1) scale(1,1.1)" x="0" y="0" font-size="7.2" text-anchor="end" fill="#111">100</text>
<line x1="238.20" y1="450.10" x2="240.40" y2="450.10" stroke="#111" stroke-width="0.9" />
<text transform="translate(237.60,452.70) scale(1.0,1) scale(1,1.1)" x="0" y="0" font-size="7.2" text-anchor="end" fill="#111">200</text>
<line x1="238.20" y1="425.45" x2="240.40" y2="425.45" stroke="#111" stroke-width="0.9" />
<text transform="translate(237.60,428.05) scale(1.0,1) scale(1,1.1)" x="0" y="0" font-size="7.2" text-anchor="end" fill="#111">300</text>
<line x1="238.20" y1="400.80" x2="240.40" y2="400.80" stroke="#111" stroke-width="0.9" />
<text transform="translate(237.60,403.40) scale(1.0,1) scale(1,1.1)" x="0" y="0" font-size="7.2" text-anchor="end" fill="#111">400</text>
<line x1="240.40" y1="499.40" x2="314.50" y2="499.40" stroke="#111" stroke-width="0.9" />
<line x1="240.60" y1="499.40" x2="240.60" y2="501.00" stroke="#111" stroke-width="0.9" />
<text transform="translate(240.60,510.20) scale(1.0,1) scale(1,1.1)" x="0" y="0" font-size="7.2" text-anchor="middle" fill="#111">0</text>
<line x1="245.84" y1="499.40" x2="245.84" y2="501.00" stroke="#111" stroke-width="0.9" />
<line x1="251.08" y1="499.40" x2="251.08" y2="501.00" stroke="#111" stroke-width="0.9" />
<line x1="256.32" y1="499.40" x2="256.32" y2="501.00" stroke="#111" stroke-width="0.9" />
<line x1="261.56" y1="499.40" x2="261.56" y2="501.00" stroke="#111" stroke-width="0.9" />
<line x1="266.80" y1="499.40" x2="266.80" y2="501.00" stroke="#111" stroke-width="0.9" />
<text transform="translate(266.80,510.20) scale(1.0,1) scale(1,1.1)" x="0" y="0" font-size="7.2" text-anchor="middle" fill="#111">5</text>
<line x1="272.04" y1="499.40" x2="272.04" y2="501.00" stroke="#111" stroke-width="0.9" />
<line x1="277.28" y1="499.40" x2="277.28" y2="501.00" stroke="#111" stroke-width="0.9" />
<line x1="282.52" y1="499.40" x2="282.52" y2="501.00" stroke="#111" stroke-width="0.9" />
<line x1="287.76" y1="499.40" x2="287.76" y2="501.00" stroke="#111" stroke-width="0.9" />
<line x1="293.00" y1="499.40" x2="293.00" y2="501.00" stroke="#111" stroke-width="0.9" />
<text transform="translate(293.00,510.20) scale(1.0,1) scale(1,1.1)" x="0" y="0" font-size="7.2" text-anchor="middle" fill="#111">10</text>
<line x1="298.24" y1="499.40" x2="298.24" y2="501.00" stroke="#111" stroke-width="0.9" />
<line x1="303.48" y1="499.40" x2="303.48" y2="501.00" stroke="#111" stroke-width="0.9" />
<line x1="308.72" y1="499.40" x2="308.72" y2="501.00" stroke="#111" stroke-width="0.9" />
<line x1="313.96" y1="499.40" x2="313.96" y2="501.00" stroke="#111" stroke-width="0.9" />
<line x1="240.60" y1="499.40" x2="240.60" y2="501.80" stroke="#111" stroke-width="0.9" />
<line x1="266.80" y1="499.40" x2="266.80" y2="501.80" stroke="#111" stroke-width="0.9" />
<line x1="293.00" y1="499.40" x2="293.00" y2="501.80" stroke="#111" stroke-width="0.9" />
<text transform="translate(277.90,522.40) scale(1,1.1)" x="0" y="0" font-size="6.7" text-anchor="middle" font-weight="normal" font-style="normal" fill="#111" >Days post MCMV infection</text>
<text transform="translate(216.00,450.00) rotate(-90) scale(1,1.1)" x="0" y="0" font-size="6.6" text-anchor="middle" fill="#111">No. Splenic CD45.2<tspan font-size="4.4" dy="-2.5">+</tspan><tspan dy="2.5"> Cells (x 10</tspan><tspan font-size="4.4" dy="-2.5">−4</tspan><tspan dy="2.5">)</tspan></text>
<text x="372.80" y="369.60" font-size="11.5" text-anchor="start" font-weight="bold" font-style="normal" fill="#000" >H</text>
<text transform="translate(408.70,393.50) scale(1,1.1)" x="0" y="0" font-size="7.2" text-anchor="middle" font-weight="normal" font-style="normal" fill="#111" >Spleen</text>
<text transform="translate(407.80,412.30) scale(1,1.1)" x="0" y="0" font-size="12" text-anchor="middle" font-weight="normal" font-style="normal" fill="#111" >*</text>
<line x1="392.60" y1="412.60" x2="421.00" y2="412.60" stroke="#111" stroke-width="0.9" />
<line x1="383.40" y1="412.40" x2="383.40" y2="511.30" stroke="#111" stroke-width="0.9" />
<line x1="381.00" y1="511.30" x2="383.40" y2="511.30" stroke="#111" stroke-width="0.9" />
<text transform="translate(380.80,514.00) scale(0.86,1) scale(1,1.1)" x="0" y="0" font-size="7.6" text-anchor="end" fill="#111">10<tspan font-size="4.8" dy="-3.0">1</tspan></text>
<line x1="382.10" y1="501.38" x2="383.40" y2="501.38" stroke="#333" stroke-width="0.6" />
<line x1="382.10" y1="495.57" x2="383.40" y2="495.57" stroke="#333" stroke-width="0.6" />
<line x1="382.10" y1="491.45" x2="383.40" y2="491.45" stroke="#333" stroke-width="0.6" />
<line x1="382.10" y1="488.26" x2="383.40" y2="488.26" stroke="#333" stroke-width="0.6" />
<line x1="382.10" y1="485.65" x2="383.40" y2="485.65" stroke="#333" stroke-width="0.6" />
<line x1="382.10" y1="483.44" x2="383.40" y2="483.44" stroke="#333" stroke-width="0.6" />
<line x1="382.10" y1="481.53" x2="383.40" y2="481.53" stroke="#333" stroke-width="0.6" />
<line x1="382.10" y1="479.84" x2="383.40" y2="479.84" stroke="#333" stroke-width="0.6" />
<line x1="381.00" y1="478.33" x2="383.40" y2="478.33" stroke="#111" stroke-width="0.9" />
<text transform="translate(380.80,481.03) scale(0.86,1) scale(1,1.1)" x="0" y="0" font-size="7.6" text-anchor="end" fill="#111">10<tspan font-size="4.8" dy="-3.0">2</tspan></text>
<line x1="382.10" y1="468.41" x2="383.40" y2="468.41" stroke="#333" stroke-width="0.6" />
<line x1="382.10" y1="462.60" x2="383.40" y2="462.60" stroke="#333" stroke-width="0.6" />
<line x1="382.10" y1="458.49" x2="383.40" y2="458.49" stroke="#333" stroke-width="0.6" />
<line x1="382.10" y1="455.29" x2="383.40" y2="455.29" stroke="#333" stroke-width="0.6" />
<line x1="382.10" y1="452.68" x2="383.40" y2="452.68" stroke="#333" stroke-width="0.6" />
<line x1="382.10" y1="450.47" x2="383.40" y2="450.47" stroke="#333" stroke-width="0.6" />
<line x1="382.10" y1="448.56" x2="383.40" y2="448.56" stroke="#333" stroke-width="0.6" />
<line x1="382.10" y1="446.88" x2="383.40" y2="446.88" stroke="#333" stroke-width="0.6" />
<line x1="381.00" y1="445.37" x2="383.40" y2="445.37" stroke="#111" stroke-width="0.9" />
<text transform="translate(380.80,448.07) scale(0.86,1) scale(1,1.1)" x="0" y="0" font-size="7.6" text-anchor="end" fill="#111">10<tspan font-size="4.8" dy="-3.0">3</tspan></text>
<line x1="382.10" y1="435.44" x2="383.40" y2="435.44" stroke="#333" stroke-width="0.6" />
<line x1="382.10" y1="429.64" x2="383.40" y2="429.64" stroke="#333" stroke-width="0.6" />
<line x1="382.10" y1="425.52" x2="383.40" y2="425.52" stroke="#333" stroke-width="0.6" />
<line x1="382.10" y1="422.32" x2="383.40" y2="422.32" stroke="#333" stroke-width="0.6" />
<line x1="382.10" y1="419.71" x2="383.40" y2="419.71" stroke="#333" stroke-width="0.6" />
<line x1="382.10" y1="417.51" x2="383.40" y2="417.51" stroke="#333" stroke-width="0.6" />
<line x1="382.10" y1="415.59" x2="383.40" y2="415.59" stroke="#333" stroke-width="0.6" />
<line x1="382.10" y1="413.91" x2="383.40" y2="413.91" stroke="#333" stroke-width="0.6" />
<line x1="381.00" y1="412.40" x2="383.40" y2="412.40" stroke="#111" stroke-width="0.9" />
<text transform="translate(380.80,415.10) scale(0.86,1) scale(1,1.1)" x="0" y="0" font-size="7.6" text-anchor="end" fill="#111">10<tspan font-size="4.8" dy="-3.0">4</tspan></text>
<line x1="383.40" y1="511.30" x2="432.50" y2="511.30" stroke="#111" stroke-width="0.9" />
<line x1="395.80" y1="511.30" x2="395.80" y2="513.70" stroke="#111" stroke-width="0.9" />
<line x1="420.20" y1="511.30" x2="420.20" y2="513.70" stroke="#111" stroke-width="0.9" />
<circle cx="392.9" cy="470.6" r="2.1" fill="#000"/>
<circle cx="398.7" cy="475.6" r="2.1" fill="#000"/>
<circle cx="395.9" cy="482.6" r="2.1" fill="#000"/>
<rect x="418.30" y="422.70" width="4.20" height="4.20" fill="#000" stroke="none" stroke-width="1" />
<rect x="421.30" y="436.20" width="4.20" height="4.20" fill="#000" stroke="none" stroke-width="1" />
<rect x="415.50" y="440.30" width="4.20" height="4.20" fill="#000" stroke="none" stroke-width="1" />
<line x1="387.50" y1="475.40" x2="403.70" y2="475.40" stroke="#111" stroke-width="0.9" />
<line x1="412.60" y1="433.10" x2="428.50" y2="433.10" stroke="#111" stroke-width="0.9" />
<text transform="translate(385.6,523.6) scale(1,1.1)" x="0" y="0" font-size="7.5" fill="#111" font-style="italic">Eri1<tspan font-size="4.9" dx="0.5" dy="-2.9">+/+</tspan></text>
<text transform="translate(410.8,523.6) scale(1,1.1)" x="0" y="0" font-size="7.5" fill="#111" font-style="italic">Eri1<tspan font-size="4.9" dx="0.5" dy="-2.9">−/−</tspan></text>
<text transform="translate(365.20,462.50) rotate(-90) scale(1,1.1)" x="0" y="0" font-size="6.8" text-anchor="middle" fill="#111">PFU/Spleen</text>
<text transform="translate(487.90,394.00) scale(1,1.1)" x="0" y="0" font-size="7.2" text-anchor="middle" font-weight="normal" font-style="normal" fill="#111" >Liver</text>
<text transform="translate(489.70,412.00) scale(1,1.1)" x="0" y="0" font-size="12" text-anchor="middle" font-weight="normal" font-style="normal" fill="#111" >*</text>
<line x1="475.00" y1="411.40" x2="503.40" y2="411.40" stroke="#111" stroke-width="0.9" />
<line x1="465.00" y1="412.40" x2="465.00" y2="511.00" stroke="#111" stroke-width="0.9" />
<line x1="462.60" y1="511.00" x2="465.00" y2="511.00" stroke="#111" stroke-width="0.9" />
<text transform="translate(462.40,513.70) scale(0.86,1) scale(1,1.1)" x="0" y="0" font-size="7.6" text-anchor="end" fill="#111">10<tspan font-size="4.8" dy="-3.0">3</tspan></text>
<line x1="463.70" y1="496.16" x2="465.00" y2="496.16" stroke="#333" stroke-width="0.6" />
<line x1="463.70" y1="487.48" x2="465.00" y2="487.48" stroke="#333" stroke-width="0.6" />
<line x1="463.70" y1="481.32" x2="465.00" y2="481.32" stroke="#333" stroke-width="0.6" />
<line x1="463.70" y1="476.54" x2="465.00" y2="476.54" stroke="#333" stroke-width="0.6" />
<line x1="463.70" y1="472.64" x2="465.00" y2="472.64" stroke="#333" stroke-width="0.6" />
<line x1="463.70" y1="469.34" x2="465.00" y2="469.34" stroke="#333" stroke-width="0.6" />
<line x1="463.70" y1="466.48" x2="465.00" y2="466.48" stroke="#333" stroke-width="0.6" />
<line x1="463.70" y1="463.96" x2="465.00" y2="463.96" stroke="#333" stroke-width="0.6" />
<line x1="462.60" y1="461.70" x2="465.00" y2="461.70" stroke="#111" stroke-width="0.9" />
<text transform="translate(462.40,464.40) scale(0.86,1) scale(1,1.1)" x="0" y="0" font-size="7.6" text-anchor="end" fill="#111">10<tspan font-size="4.8" dy="-3.0">4</tspan></text>
<line x1="463.70" y1="446.86" x2="465.00" y2="446.86" stroke="#333" stroke-width="0.6" />
<line x1="463.70" y1="438.18" x2="465.00" y2="438.18" stroke="#333" stroke-width="0.6" />
<line x1="463.70" y1="432.02" x2="465.00" y2="432.02" stroke="#333" stroke-width="0.6" />
<line x1="463.70" y1="427.24" x2="465.00" y2="427.24" stroke="#333" stroke-width="0.6" />
<line x1="463.70" y1="423.34" x2="465.00" y2="423.34" stroke="#333" stroke-width="0.6" />
<line x1="463.70" y1="420.04" x2="465.00" y2="420.04" stroke="#333" stroke-width="0.6" />
<line x1="463.70" y1="417.18" x2="465.00" y2="417.18" stroke="#333" stroke-width="0.6" />
<line x1="463.70" y1="414.66" x2="465.00" y2="414.66" stroke="#333" stroke-width="0.6" />
<line x1="462.60" y1="412.40" x2="465.00" y2="412.40" stroke="#111" stroke-width="0.9" />
<text transform="translate(462.40,415.10) scale(0.86,1) scale(1,1.1)" x="0" y="0" font-size="7.6" text-anchor="end" fill="#111">10<tspan font-size="4.8" dy="-3.0">5</tspan></text>
<line x1="465.00" y1="511.00" x2="513.60" y2="511.00" stroke="#111" stroke-width="0.9" />
<line x1="477.20" y1="511.00" x2="477.20" y2="513.40" stroke="#111" stroke-width="0.9" />
<line x1="502.00" y1="511.00" x2="502.00" y2="513.40" stroke="#111" stroke-width="0.9" />
<circle cx="477.2" cy="477.6" r="2.1" fill="#000"/>
<circle cx="474.2" cy="488.3" r="2.1" fill="#000"/>
<circle cx="480.2" cy="487.7" r="2.1" fill="#000"/>
<rect x="499.70" y="436.30" width="4.20" height="4.20" fill="#000" stroke="none" stroke-width="1" />
<rect x="499.90" y="452.40" width="4.20" height="4.20" fill="#000" stroke="none" stroke-width="1" />
<rect x="499.90" y="466.10" width="4.20" height="4.20" fill="#000" stroke="none" stroke-width="1" />
<line x1="469.40" y1="483.90" x2="485.00" y2="483.90" stroke="#111" stroke-width="0.9" />
<line x1="493.80" y1="450.50" x2="509.80" y2="450.50" stroke="#111" stroke-width="0.9" />
<text transform="translate(466.6,523.8) scale(1,1.1)" x="0" y="0" font-size="7.5" fill="#111" font-style="italic">Eri1<tspan font-size="4.9" dx="0.5" dy="-2.9">+/+</tspan></text>
<text transform="translate(492.6,523.8) scale(1,1.1)" x="0" y="0" font-size="7.5" fill="#111" font-style="italic">Eri1<tspan font-size="4.9" dx="0.5" dy="-2.9">−/−</tspan></text>
<text transform="translate(445.50,463.00) rotate(-90) scale(1,1.1)" x="0" y="0" font-size="6.8" text-anchor="middle" fill="#111">PFU/ g Liver</text>
</svg>
</body></html>
